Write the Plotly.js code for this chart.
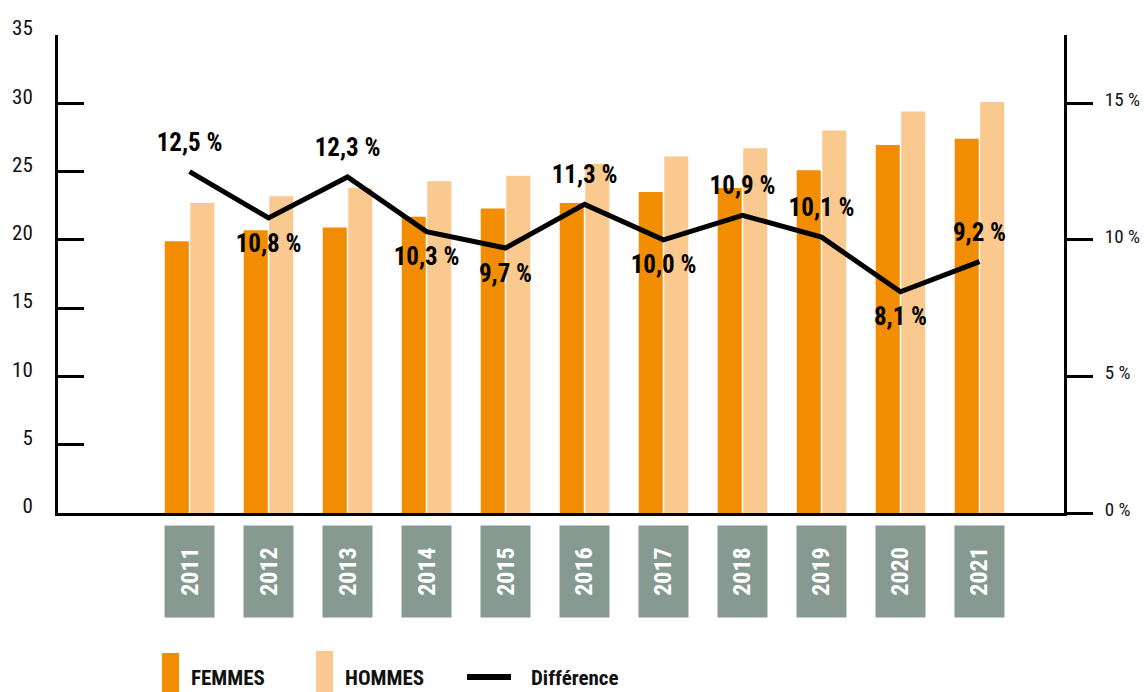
<!DOCTYPE html>
<html>
<head>
<meta charset="utf-8">
<script src="https://cdn.plot.ly/plotly-3.0.1.min.js"></script>
<style>
html,body{margin:0;padding:0;background:#fff;}
#chart{width:1144px;height:692px;}
</style>
</head>
<body>
<div id="chart"></div>
<script>
// ---- data ----
const years = ['2011','2012','2013','2014','2015','2016','2017','2018','2019','2020','2021'];
const femmes = [19.9, 20.7, 20.9, 21.7, 22.3, 22.7, 23.5, 23.8, 25.1, 26.95, 27.4];
const hommes = [22.7, 23.2, 23.8, 24.3, 24.7, 25.55, 26.1, 26.7, 28.0, 29.4, 30.1];
const difference = [12.5, 10.8, 12.3, 10.3, 9.7, 11.3, 10.0, 10.9, 10.1, 8.1, 9.2];
const diffLabels = ['12,5 %','10,8 %','12,3 %','10,3 %','9,7 %','11,3 %','10,0 %','10,9 %','10,1 %','8,1 %','9,2 %'];
const labelPos = ['top center','bottom center','top center','bottom center','bottom center','top center','bottom center','top center','top center','bottom center','top center'];
const leftTicks = [0,5,10,15,20,25,30,35];
const rightTicks = [0,5,10,15];
const rightTickText = ['0 %','5 %','10 %','15 %'];
const legendNames = ['FEMMES','HOMMES','Différence'];

// ---- style ----
const FONT = '"Roboto Condensed", "Liberation Sans Narrow", "DejaVu Sans Condensed", Roboto, sans-serif';
const C_F = '#F28C00';
const C_H = '#F9C990';
const C_BOX = '#869A92';

const traces = [
  {type:'bar', x:years, y:femmes, name:legendNames[0], marker:{color:C_F}, hoverinfo:'skip'},
  {type:'bar', x:years, y:hommes, name:legendNames[1], marker:{color:C_H}, hoverinfo:'skip'},
  {type:'scatter', mode:'lines+markers+text', x:years, y:difference, yaxis:'y2', name:legendNames[2],
   line:{color:'#000', width:5}, marker:{size:22, color:'rgba(0,0,0,0)'},
   text:diffLabels, textposition:labelPos,
   textfont:{family:FONT, size:25, color:'#000', weight:'bold'}, cliponaxis:false, hoverinfo:'skip'}
];

// category boxes under the axis (x given as category index)
const annotations = years.map((y, i) => ({
  x:i, xref:'x', y:-0.1224, yref:'paper', yanchor:'middle', xanchor:'center',
  text:'<b>'+y+'</b>', textangle:-90, showarrow:false,
  bgcolor:C_BOX, width:91, height:49, borderpad:0,
  font:{family:FONT, size:24, color:'#fff'}
}));

// custom legend
const legX = [0.1302, 0.2833, 0.4682];
legendNames.forEach((n,i)=>{
  annotations.push({x:legX[i], xref:'paper', y:-0.3446, yref:'paper', xanchor:'left', yanchor:'middle',
    text:'<b>'+n+'</b>', showarrow:false, font:{family:FONT, size:21, color:'#111'}});
});
const shapes = [
  {type:'rect', xref:'paper', yref:'paper', x0:0.1034, x1:0.1203, y0:-0.40, y1:-0.2929, fillcolor:C_F, line:{width:0}},
  {type:'rect', xref:'paper', yref:'paper', x0:0.2565, x1:0.2734, y0:-0.40, y1:-0.2887, fillcolor:C_H, line:{width:0}},
  {type:'line', xref:'paper', yref:'paper', x0:0.4066, x1:0.4503, y0:-0.3431, y1:-0.3431, line:{color:'#000', width:6}}
];

const layout = {
  width:1144, height:692,
  margin:{l:58, r:80, t:35, b:179, pad:0},
  paper_bgcolor:'#fff', plot_bgcolor:'#fff',
  showlegend:false,
  barmode:'group', bargap:0.354, bargroupgap:0.059,
  font:{family:FONT, color:'#111'},
  xaxis:{type:'category', range:[-1.665, 11.07], showticklabels:false, ticks:'',
         showline:true, linecolor:'#000', linewidth:3, showgrid:false, zeroline:false, fixedrange:true},
  yaxis:{range:[0,35], tickvals:leftTicks, ticks:'inside', ticklen:26, tickwidth:3, tickcolor:'#000',
         showline:true, linecolor:'#000', linewidth:3, showgrid:false, zeroline:false,
         ticklabelstandoff:18, ticklabelshift:-7,
         tickfont:{family:FONT, size:21, color:'#111'}},
  yaxis2:{overlaying:'y', side:'right', range:[0,17.5], tickvals:rightTicks, ticktext:rightTickText,
          ticks:'outside', ticklen:26, tickwidth:3, tickcolor:'#000',
          showline:true, linecolor:'#000', linewidth:3, showgrid:false, zeroline:false,
          ticklabelstandoff:8, ticklabelshift:-4,
          tickfont:{family:FONT, size:19, color:'#111'}},
  annotations:annotations,
  shapes:shapes
};

Plotly.newPlot('chart', traces, layout, {displayModeBar:false, staticPlot:true});
</script>
</body>
</html>
